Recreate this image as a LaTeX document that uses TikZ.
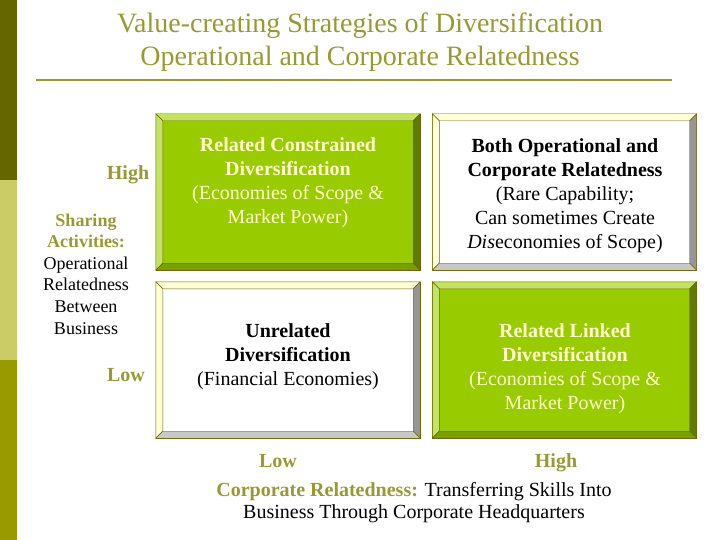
\documentclass[tikz,border=0pt]{standalone}
\usepackage{fontspec}
\setmainfont{Liberation Serif}
\usetikzlibrary{positioning}

\definecolor{olivetext}{RGB}{153,153,51}
\definecolor{darkolive}{RGB}{102,102,0}
\definecolor{khaki}{RGB}{204,204,102}
\definecolor{oliveband}{RGB}{153,153,0}
\definecolor{leafgreen}{RGB}{153,204,0}
\definecolor{leaflight}{RGB}{196,226,100}
\definecolor{leafdark}{RGB}{96,122,0}
\definecolor{leafmid}{RGB}{122,160,0}
\definecolor{cream}{RGB}{255,255,215}
\definecolor{greyright}{RGB}{150,150,150}
\definecolor{greybottom}{RGB}{200,200,200}
\definecolor{paletext}{RGB}{255,255,204}

\begin{document}
\begin{tikzpicture}[x=1pt,y=-1pt]
    \tikzstyle{titletext} = [text=olivetext, font=\fontsize{28}{34}\selectfont]
    \tikzstyle{greenbox} = [rectangle, draw=darkolive, fill=leafgreen, minimum width=264pt, minimum height=156pt]
    \tikzstyle{whitebox} = [rectangle, draw=darkolive, fill=white, minimum width=264pt, minimum height=156pt]
    \tikzstyle{lighttext} = [align=center, text=paletext, font=\fontsize{20}{24}\selectfont]
    \tikzstyle{darktext} = [align=center, text=black, font=\fontsize{20}{24}\selectfont]
    \tikzstyle{level} = [text=olivetext, font=\fontsize{20}{24}\selectfont\bfseries]
    \tikzstyle{axistext} = [align=center, font=\fontsize{18}{21.6}\selectfont]
    \useasboundingbox (0,0) rectangle (720,540);
    % side bar
    \fill[darkolive] (0,0) rectangle (17,180);
    \fill[khaki] (0,180) rectangle (17,360);
    \fill[oliveband] (0,360) rectangle (17,540);
    % title
    \node (title1) [titletext] at (360,26) {Value-creating Strategies of Diversification};
    \node (title2) [titletext] at (360,59) {Operational and Corporate Relatedness};
    \draw[olivetext, line width=1.5pt] (36,80) -- (672,80);
    % the four boxes
    \node (rc) [greenbox] at (288,192) {};
    \node (both) [whitebox] at (564.5,192) {};
    \node (unrel) [whitebox] at (288,360) {};
    \node (rl) [greenbox] at (564.5,360) {};
    \foreach \b/\lt/\dk/\md in {rc/leaflight/leafdark/leafmid, both/cream/greyright/greybottom,
                                unrel/cream/greyright/greybottom, rl/leaflight/leafdark/leafmid}
    {
        \filldraw[fill=\lt, draw=darkolive] (\b.north west) -- (\b.north east) -- ([shift={(-7pt,-7pt)}]\b.north east) -- ([shift={(7pt,-7pt)}]\b.north west) -- cycle;
        \filldraw[fill=\lt, draw=darkolive] (\b.north west) -- (\b.south west) -- ([shift={(7pt,7pt)}]\b.south west) -- ([shift={(7pt,-7pt)}]\b.north west) -- cycle;
        \filldraw[fill=\dk, draw=darkolive] (\b.north east) -- (\b.south east) -- ([shift={(-7pt,7pt)}]\b.south east) -- ([shift={(-7pt,-7pt)}]\b.north east) -- cycle;
        \filldraw[fill=\md, draw=darkolive] (\b.south west) -- (\b.south east) -- ([shift={(-7pt,7pt)}]\b.south east) -- ([shift={(7pt,7pt)}]\b.south west) -- cycle;
    }
    \node (rcText) [lighttext] at (288,183) {\textbf{Related Constrained}\\\textbf{Diversification}\\(Economies of Scope \&\\Market Power)};
    \node (bothText) [darktext] at (565,196) {\textbf{Both Operational and}\\\textbf{Corporate Relatedness}\\(Rare Capability;\\Can sometimes Create\\\textit{Dis}economies of Scope)};
    \node (unrelText) [darktext] at (288,357) {\textbf{Unrelated}\\\textbf{Diversification}\\(Financial Economies)};
    \node (rlText) [lighttext] at (565,369) {\textbf{Related Linked}\\\textbf{Diversification}\\(Economies of Scope \&\\Market Power)};
    % vertical axis
    \node (vHigh) [level, anchor=base] at (128,180) {High};
    \node (vLow) [level, anchor=base] at (126,381) {Low};
    \node (vText) [axistext] at (86,274) {\textcolor{olivetext}{\textbf{Sharing}}\\\textcolor{olivetext}{\textbf{Activities:}}\\Operational\\Relatedness\\Between\\Business};
    % horizontal axis
    \node (hLow) [level, anchor=base] at (278,467) {Low};
    \node (hHigh) [level, anchor=base] at (556,467) {High};
    \node (hText) [align=center, font=\fontsize{20}{22}\selectfont] at (414,503) {\textcolor{olivetext}{\textbf{Corporate Relatedness:}} Transferring Skills Into\\Business Through Corporate Headquarters};
\end{tikzpicture}
\end{document}
